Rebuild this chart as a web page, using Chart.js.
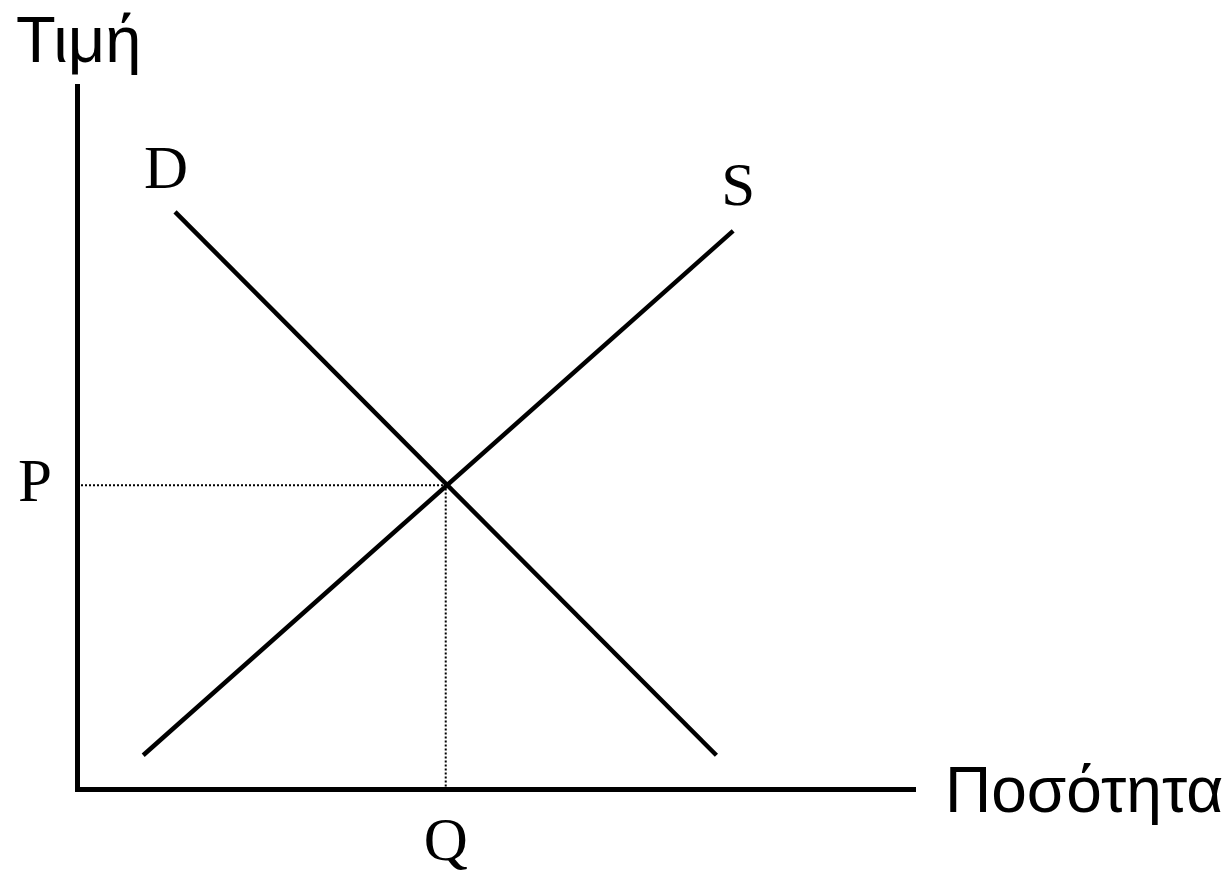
<!DOCTYPE html>
<html>
<head>
<meta charset="utf-8">
<script src="https://cdn.jsdelivr.net/npm/chart.js@4"></script>
<style>
  html, body { margin: 0; padding: 0; background: #fff; }
</style>
</head>
<body>
<canvas id="chart" width="1231" height="872"></canvas>
<script>
// supply / demand in abstract units (0..10 on both axes)
const demand = [{ x: 1.17, y: 8.21 }, { x: 7.63, y: 0.48 }];
const supply = [{ x: 0.79, y: 0.48 }, { x: 7.83, y: 7.94 }];
const eqQ = 4.4;
const eqP = 4.32;
const guide = [{ x: 0, y: eqP }, { x: eqQ, y: eqP }, { x: eqQ, y: 0 }];

const axisTitles = { y: "Τιμή", x: "Ποσότητα" };
const curveLabels = { demand: "D", supply: "S" };
const tickLabels = { x: "Q", y: "P" };

const serif = '"Liberation Serif", "Times New Roman", serif';
const sans = '"Liberation Sans", Arial, sans-serif';

const textPlugin = {
    id: "textLabels",
    afterDraw(chart) {
        const { ctx, chartArea, scales } = chart;
        const xs = scales.x, ys = scales.y;
        ctx.save();
        ctx.fillStyle = "#000";
        ctx.textBaseline = "alphabetic";
        ctx.textAlign = "left";

        ctx.font = "65px " + sans;
        ctx.fillText(axisTitles.y, 16, 62);
        ctx.font = "64px " + sans;
        ctx.fillText(axisTitles.x, chartArea.right + 30, 812);

        ctx.font = "61px " + serif;
        ctx.fillText(curveLabels.demand,
            xs.getPixelForValue(demand[0].x) - 31, ys.getPixelForValue(demand[0].y) - 24);
        ctx.fillText(curveLabels.supply,
            xs.getPixelForValue(supply[1].x) - 12, ys.getPixelForValue(supply[1].y) - 26);
        ctx.restore();
    }
};

new Chart(document.getElementById("chart"), {
    type: "line",
    data: {
        datasets: [
            { label: "D", data: demand, borderColor: "#000", borderWidth: 4.5, pointRadius: 0 },
            { label: "S", data: supply, borderColor: "#000", borderWidth: 4.5, pointRadius: 0 },
            { label: "eq", data: guide, borderColor: "#000", borderWidth: 2, borderDash: [2, 2], pointRadius: 0 }
        ]
    },
    options: {
        responsive: false,
        animation: false,
        events: [],
        layout: { padding: { top: 86, right: 316, left: 0, bottom: 0 } },
        plugins: { legend: { display: false }, tooltip: { enabled: false }, title: { display: false } },
        scales: {
            x: {
                type: "linear",
                min: 0,
                max: 10,
                grid: { display: false },
                border: { display: true, color: "#000", width: 5 },
                afterBuildTicks: s => { s.ticks = [{ value: eqQ }]; },
                afterFit: s => { s.height = 83; },
                ticks: {
                    autoSkip: false,
                    padding: 10,
                    color: "#000",
                    font: { family: serif, size: 61 },
                    callback: () => tickLabels.x
                }
            },
            y: {
                type: "linear",
                min: 0,
                max: 10,
                grid: { display: false },
                border: { display: true, color: "#000", width: 5 },
                afterBuildTicks: s => { s.ticks = [{ value: eqP }]; },
                afterFit: s => { s.width = 77; },
                ticks: {
                    autoSkip: false,
                    padding: 17,
                    color: "#000",
                    font: { family: serif, size: 61 },
                    callback: () => tickLabels.y
                }
            }
        }
    },
    plugins: [textPlugin]
});
</script>
</body>
</html>
